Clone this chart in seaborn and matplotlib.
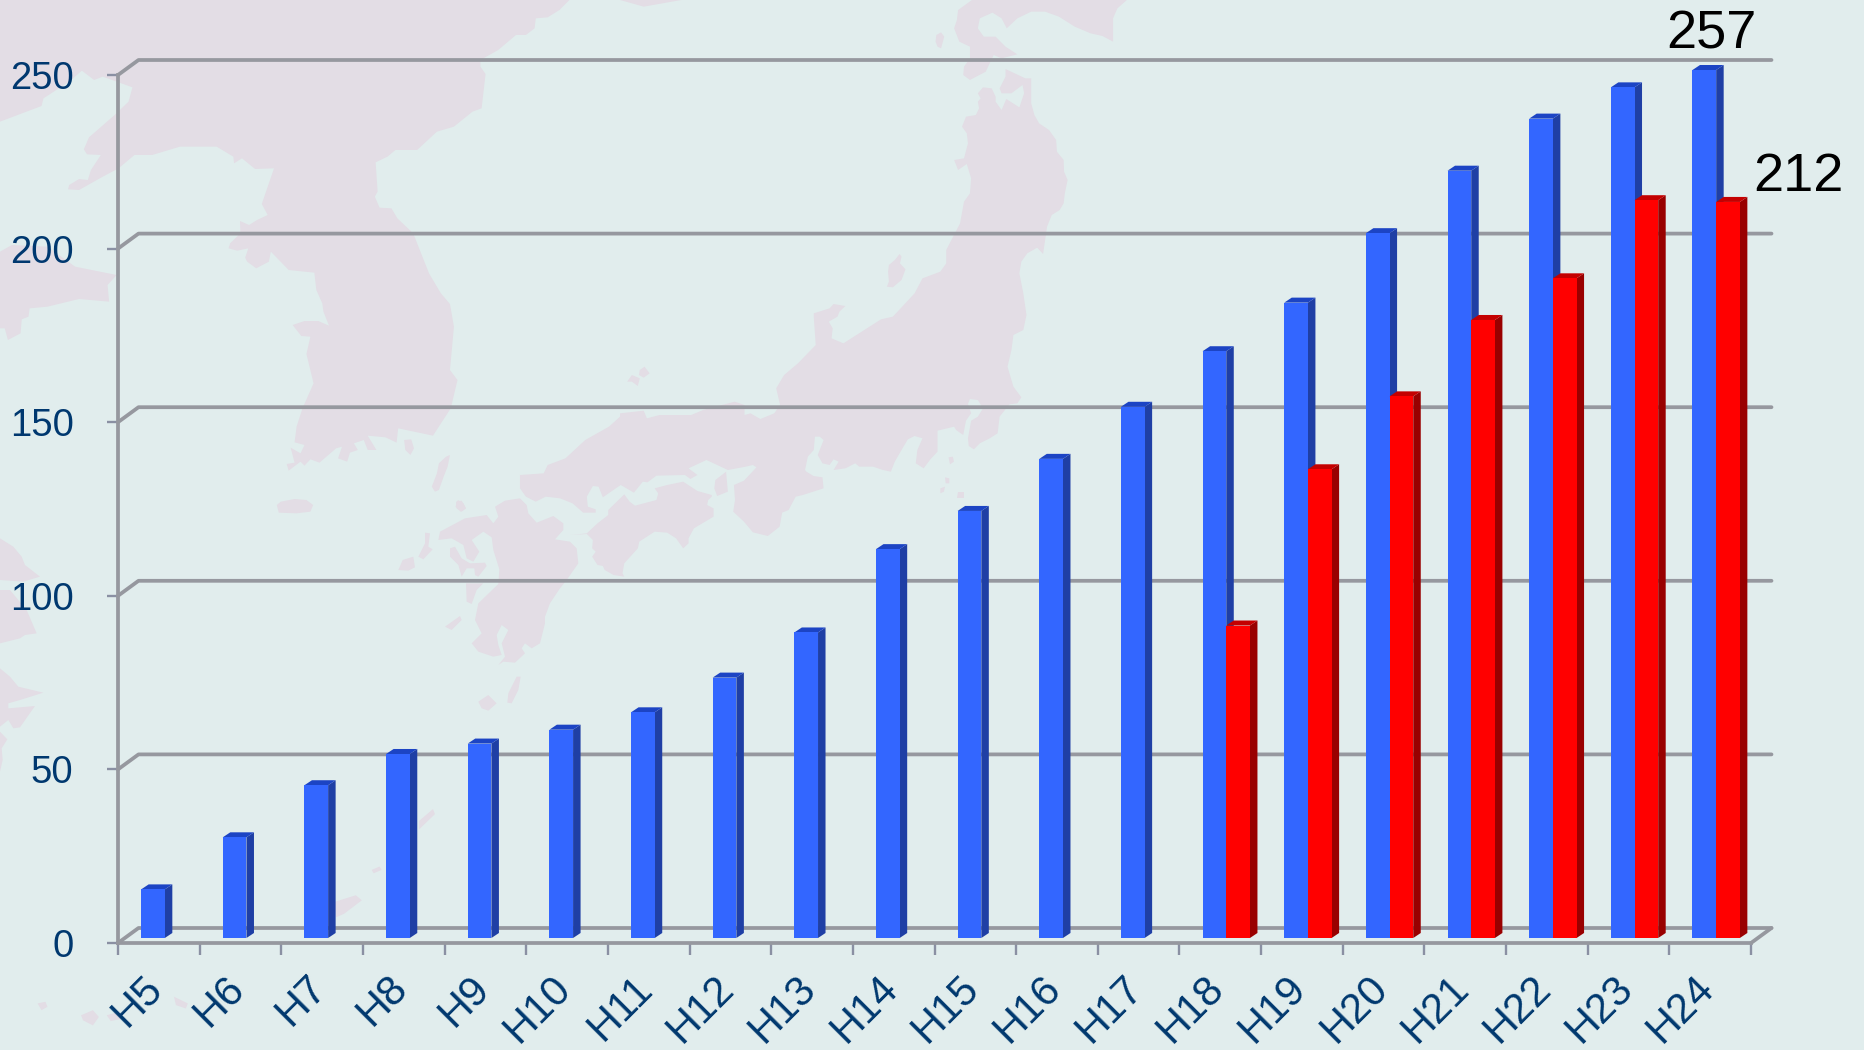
import numpy as np
import pandas as pd
import matplotlib
matplotlib.use("Agg")
import matplotlib.pyplot as plt
import seaborn as sns
from matplotlib.patches import Polygon
from matplotlib.transforms import ScaledTranslation

years = ["H5", "H6", "H7", "H8", "H9", "H10", "H11", "H12", "H13", "H14",
         "H15", "H16", "H17", "H18", "H19", "H20", "H21", "H22", "H23", "H24"]
blue_values = [14, 29, 44, 53, 56, 60, 65, 75, 88, 112,
               123, 138, 153, 169, 183, 203, 221, 236, 245, 257]
red_values = [None] * 13 + [90, 135, 156, 178, 190, 212.5, 212]
y_ticks = [0, 50, 100, 150, 200, 250]
y_top = 250  # the axis stops here, the 257 bar is cut off by it

BG = "#e1eded"
LAND = "#e3dde5"
GRID = "#96989f"
TICK = "#8a90a3"
NAVY = "#00386f"

W, H = 1864, 1050
PX_X = 20 / (1751 - 118)  # categories per pixel
PX_Y = 250 / (943 - 75)   # units per pixel


def trace(x0, y0, sx, sy, pts):
    return [(x0 + a / sx, y0 + b / sy) for a, b in pts]


def z5(pts):
    return trace(0, 0, 2.529, 3, pts)


def z6(pts):
    return trace(620, 0, 2.529, 3, pts)


def z7(pts):
    return trace(0, 520, 2.529, 2.958, pts)


def z8(pts):
    return trace(560, 360, 2.8, 3, pts)


def z9(pts):
    return trace(380, 480, 3, 3, pts)


def z10(pts):
    return trace(0, 500, 3, 3, pts)


land = [
    # continent and Korea
    z5([(0, 0), (1440, 0), (1415, 30), (1385, 52), (1355, 55), (1352, 85), (1330, 105), (1305, 105),
        (1260, 150), (1215, 180), (1215, 200), (1228, 222), (1218, 325), (1195, 335), (1148, 380),
        (1105, 395), (1055, 450), (1000, 450), (980, 470), (950, 487), (955, 575), (948, 590), (960, 623),
        (990, 625), (1005, 655), (1045, 700), (1085, 820), (1115, 880), (1138, 912), (1148, 980),
        (1138, 1110), (1157, 1140), (1140, 1225), (1095, 1307), (1007, 1285), (1003, 1328), (975, 1312),
        (930, 1307), (952, 1350), (930, 1350), (920, 1320), (895, 1330), (905, 1350), (885, 1358),
        (878, 1385), (855, 1375), (865, 1340), (850, 1345), (808, 1388), (785, 1378), (770, 1397),
        (760, 1385), (730, 1412), (725, 1392), (745, 1388), (735, 1343), (760, 1360), (770, 1335),
        (745, 1327), (750, 1280), (765, 1225), (793, 1150), (775, 1062), (785, 1010), (762, 1008),
        (740, 975), (770, 963), (805, 963), (832, 977), (818, 935), (815, 910), (800, 870), (795, 818),
        (730, 810), (685, 755), (680, 785), (648, 805), (625, 785), (620, 773), (628, 745), (600, 752),
        (578, 745), (582, 730), (608, 700), (607, 663), (630, 675), (650, 660), (677, 645), (662, 612),
        (693, 505), (645, 507), (612, 475), (592, 490), (590, 470), (548, 440), (455, 440), (385, 465),
        (340, 465), (300, 505), (260, 530), (200, 570), (172, 568), (175, 555), (200, 537), (222, 540),
        (230, 510), (255, 465), (220, 463), (212, 448), (225, 412), (290, 345), (325, 305), (335, 262),
        (260, 230), (238, 240), (207, 212), (175, 245), (110, 295), (105, 318), (0, 365)]),
    z5([(0, 755), (30, 735), (120, 740), (190, 800), (295, 825), (272, 855), (276, 905), (200, 897),
        (120, 920), (75, 925), (72, 950), (55, 958), (52, 1000), (20, 1020), (12, 985), (0, 985)]),
    z5([(700, 1515), (710, 1505), (745, 1497), (775, 1500), (792, 1515), (785, 1535), (750, 1540), (705, 1538)]),
    z5([(1022, 1320), (1040, 1318), (1047, 1345), (1038, 1365), (1025, 1350)]),
    z5([(1128, 1370), (1138, 1365), (1132, 1400), (1122, 1430), (1110, 1470), (1100, 1475), (1092, 1460),
        (1105, 1420), (1110, 1390)]),
    z5([(1158, 1500), (1172, 1510), (1178, 1525), (1165, 1535), (1152, 1520)]),
    z6([(0, 0), (60, 20), (155, 0)]),
    # Hokkaido
    z6([(890, 0), (855, 30), (852, 60), (845, 85), (858, 125), (885, 140), (885, 175), (870, 200), (868, 225),
        (885, 240), (925, 215), (945, 165), (965, 175), (1005, 163), (975, 140), (950, 110), (920, 110),
        (905, 85), (910, 55), (942, 38), (965, 55), (978, 85), (1005, 55), (1040, 35), (1075, 35), (1110, 50),
        (1150, 80), (1190, 100), (1220, 108), (1247, 125), (1247, 55), (1258, 25), (1282, 0)]),
    z6([(800, 105), (812, 97), (820, 110), (812, 145), (803, 140), (798, 125)]),
    # Honshu
    z6([(975, 207), (1025, 235), (1040, 235), (1040, 310), (1048, 345), (1060, 370), (1085, 390), (1103, 420),
        (1105, 455), (1122, 480), (1123, 515), (1132, 540), (1125, 580), (1122, 610), (1112, 630), (1092, 645),
        (1080, 680), (1070, 762), (1055, 743), (1030, 760), (1015, 785), (1010, 820), (1020, 880), (1028, 945),
        (1020, 990), (995, 1005), (990, 1050), (980, 1100), (995, 1160), (1015, 1192), (1005, 1210), (985, 1213),
        (960, 1250), (955, 1300), (935, 1315), (910, 1330), (895, 1348), (882, 1338), (880, 1315), (888, 1262),
        (905, 1250), (918, 1225), (905, 1200), (885, 1197), (880, 1212), (888, 1240), (875, 1262), (868, 1305),
        (850, 1290), (845, 1280), (803, 1292), (803, 1355), (785, 1378), (768, 1405), (748, 1390), (752, 1350),
        (765, 1315), (745, 1308), (728, 1318), (712, 1350), (695, 1385), (685, 1415), (665, 1410), (640, 1400),
        (605, 1400), (595, 1390), (570, 1405), (540, 1410), (553, 1385), (540, 1378), (530, 1395), (512, 1390),
        (500, 1365), (515, 1320), (505, 1310), (493, 1310), (490, 1350), (475, 1370), (468, 1410)])
    + z8([(690, 335), (710, 348), (735, 352), (738, 385), (680, 405), (660, 410), (640, 450), (622, 458),
          (615, 500), (582, 528), (540, 517), (515, 485), (485, 455), (490, 420), (487, 375), (515, 362),
          (550, 322), (540, 315), (520, 320), (470, 330), (410, 300), (360, 325), (385, 345), (365, 357),
          (350, 345), (270, 347), (245, 367), (232, 365), (207, 398), (170, 375), (120, 412), (108, 380),
          (92, 378), (75, 410), (78, 440), (100, 448), (100, 458), (65, 458), (35, 430), (0, 415)])
    + z5([(1380, 1490), (1355, 1505), (1330, 1490), (1315, 1465), (1315, 1425), (1375, 1420), (1385, 1395),
          (1430, 1375), (1480, 1320), (1540, 1280), (1568, 1250)])
    + z6([(0, 1240), (60, 1232), (68, 1255), (100, 1245), (180, 1245), (210, 1230), (290, 1205), (315, 1215),
          (315, 1245), (330, 1240), (355, 1257), (390, 1240), (405, 1215), (395, 1165), (415, 1125), (450, 1090),
          (495, 1035), (490, 950), (490, 940), (530, 925), (540, 912), (570, 918), (555, 935), (550, 950),
          (528, 965), (538, 985), (535, 1015), (565, 1030), (660, 958), (690, 950), (745, 880), (765, 835),
          (810, 815), (825, 790), (825, 750), (860, 670), (870, 605), (885, 580), (888, 535), (877, 492),
          (855, 510), (845, 480), (870, 475), (880, 430), (877, 400), (865, 380), (875, 350), (900, 345),
          (908, 325), (905, 305), (912, 295), (905, 280), (918, 262), (940, 265), (950, 290), (950, 305),
          (965, 330), (977, 297), (1010, 322), (1022, 280), (1018, 255), (990, 280), (965, 280), (960, 265),
          (975, 230)]),
    # Shikoku, Awaji
    z8([(135, 465), (135, 450), (180, 403), (195, 425), (210, 437), (270, 420), (275, 400), (265, 385), (300, 375),
        (345, 365), (385, 393), (425, 405), (425, 410), (415, 420), (412, 435), (430, 445), (430, 470), (375, 505),
        (360, 535), (360, 550), (345, 565), (325, 535), (300, 518), (265, 515), (222, 545), (218, 565), (180, 610),
        (175, 640), (180, 650), (150, 645), (125, 630), (120, 618), (105, 615), (90, 590), (100, 575), (90, 565),
        (92, 540), (75, 522), (30, 525), (75, 520), (105, 490)]),
    z8([(435, 360), (465, 335), (470, 395), (440, 408), (432, 385)]),
    # small islands
    z6([(707, 762), (712, 770), (708, 790), (722, 808), (712, 840), (690, 862), (675, 860), (680, 845), (678, 815),
        (680, 795), (695, 780)]),
    z6([(62, 1100), (75, 1120), (60, 1133), (48, 1125), (50, 1110)]),
    z6([(18, 1145), (30, 1125), (50, 1135), (45, 1158), (30, 1145)]),
    z8([(1088, 292), (1100, 290), (1103, 305), (1092, 313)]),
    z8([(1078, 352), (1090, 355), (1090, 370), (1080, 370)]),
    z8([(1065, 385), (1078, 380), (1075, 395), (1065, 400)]),
    z8([(1115, 395), (1130, 395), (1130, 415), (1112, 415)]),
    # Kyushu
    z9([(345, 80), (375, 62), (420, 55), (440, 75), (445, 100), (470, 128), (520, 108), (550, 130), (550, 150),
        (525, 178), (570, 185), (590, 205), (595, 250), (560, 300), (540, 325), (510, 370), (495, 410), (495, 430),
        (480, 490), (455, 505), (435, 490), (425, 505), (435, 520), (405, 548), (370, 545), (355, 555), (375, 530),
        (365, 490), (385, 450), (365, 435), (350, 465), (355, 495), (365, 525), (340, 530), (295, 515), (275, 490),
        (305, 460), (285, 420), (295, 370), (355, 312), (358, 268), (340, 210), (335, 172), (310, 155), (275, 180),
        (298, 215), (280, 245), (260, 235), (250, 195), (215, 175), (175, 180), (180, 155), (255, 115), (320, 105),
        (340, 130), (355, 110)]),
    z9([(210, 205), (225, 200), (245, 235), (270, 250), (315, 248), (320, 258), (295, 290), (285, 285), (283, 265),
        (260, 265), (245, 290), (235, 255), (210, 230)]),
    z9([(258, 310), (310, 310), (290, 330), (275, 372), (260, 365)]),
    z9([(55, 270), (68, 240), (100, 230), (105, 262), (85, 272)]),
    z9([(115, 230), (135, 190), (135, 158), (150, 160), (145, 200), (158, 208), (130, 238)]),
    z9([(228, 65), (245, 62), (258, 85), (245, 95), (230, 85)]),
    z9([(195, 440), (240, 408), (245, 420), (215, 450)]),
    z9([(385, 640), (410, 590), (422, 590), (415, 630), (395, 670), (382, 668)]),
    z9([(295, 665), (325, 645), (350, 670), (325, 692), (305, 685)]),
    # China coast on the left
    z10([(0, 115), (40, 140), (65, 170), (75, 195), (120, 230), (70, 245), (0, 240)]),
    z10([(0, 270), (30, 270), (80, 330), (110, 400), (75, 405), (60, 415), (0, 430)]),
    z10([(0, 505), (30, 530), (55, 560), (130, 578), (60, 600), (25, 610), (25, 625), (105, 618), (60, 682),
         (40, 685), (25, 660), (0, 680)]),
    z10([(0, 695), (22, 718), (5, 745), (8, 780), (0, 815)]),
    # southern islands behind the bars
    z7([(940, 1035), (960, 1025), (965, 1035), (945, 1045)]),
    z7([(845, 1130), (900, 1110), (915, 1125), (870, 1165), (850, 1175)]),
    z7([(1060, 890), (1095, 855), (1100, 870), (1060, 915)]),
    z7([(95, 1430), (115, 1425), (120, 1440), (105, 1450)]),
    z7([(205, 1465), (235, 1450), (250, 1470), (235, 1495), (210, 1480)]),
    z7([(270, 1465), (300, 1455), (310, 1475), (280, 1482)]),
    z7([(440, 1410), (475, 1430), (470, 1445), (445, 1435)]),
]

sns.set_theme(style="white")
plt.rcParams["font.family"] = ["Liberation Sans", "DejaVu Sans"]

fig = plt.figure(figsize=(W / 100, H / 100), dpi=100, facecolor=BG)

bg = fig.add_axes([0, 0, 1, 1], zorder=0)
bg.set_xlim(0, W)
bg.set_ylim(H, 0)
bg.axis("off")
for shape in land:
    bg.add_patch(Polygon(shape, closed=True, facecolor=LAND, edgecolor="none"))

ax = fig.add_axes([118 / W, (H - 943) / H, (1751 - 118) / W, (943 - 75) / H], zorder=1)
ax.patch.set_visible(False)

df = pd.DataFrame({
    "year": years * 2,
    "series": ["blue"] * len(years) + ["red"] * len(years),
    "value": [min(v, y_top) for v in blue_values] + [np.nan if v is None else v for v in red_values],
})
sns.barplot(data=df, x="year", y="value", hue="series", hue_order=["blue", "red"],
            palette={"blue": "#3366ff", "red": "#ff0000"}, width=0.58, gap=0,
            dodge=True, legend=False, saturation=1, ax=ax)
ax.set_xlim(-0.5, 19.5)
ax.set_ylim(0, y_top)
ax.set_xlabel("")
ax.set_ylabel("")

# back wall: each grid line starts with a short slant off the y axis
wall_x = 20.5 * PX_X
wall_y = 15 * PX_Y
for t in y_ticks:
    ax.plot([-0.5, -0.5 + wall_x, 19.5 + wall_x], [t, t + wall_y, t + wall_y],
            color=GRID, lw=2.7, clip_on=False, zorder=1, solid_joinstyle="round")
ax.plot([19.5, 19.5 + wall_x], [0, wall_y], color=GRID, lw=2.7, clip_on=False, zorder=1)

# seaborn gives the flat fronts, side and top faces are built from them
shift_x = 6 * PX_X
lift_y = 5 * PX_Y
side_x = 7.5 * PX_X
side_y = 5 * PX_Y
faces = [("#1f3fa5", "#1c44c4", 3), ("#990000", "#c40000", 4)]
for bars, (side_col, top_col, z) in zip(ax.containers, faces):
    for p in bars:
        if np.isnan(p.get_height()):
            continue
        p.set_x(p.get_x() + shift_x)
        p.set_y(lift_y)
        p.set_zorder(z + 0.5)
        p.set_clip_on(False)
        p.set_edgecolor("none")
        x0, x1 = p.get_x(), p.get_x() + p.get_width()
        y0, y1 = p.get_y(), p.get_y() + p.get_height()
        ax.add_patch(Polygon([(x1, y0), (x1 + side_x, y0 + side_y), (x1 + side_x, y1 + side_y), (x1, y1)],
                             facecolor=side_col, edgecolor="none", clip_on=False, zorder=z))
        ax.add_patch(Polygon([(x0, y1), (x0 + side_x, y1 + side_y), (x1 + side_x, y1 + side_y), (x1, y1)],
                             facecolor=top_col, edgecolor="none", clip_on=False, zorder=z))

sns.despine(ax=ax, top=True, right=True)
for name in ["left", "bottom"]:
    ax.spines[name].set_color(GRID)
    ax.spines[name].set_linewidth(2.7)
    ax.spines[name].set_zorder(2)

ax.set_yticks(y_ticks)
ax.tick_params(axis="y", length=8, width=1.7, color=TICK, pad=24, labelsize=27.5, labelcolor=NAVY, left=True)
ax.set_xticks(np.arange(len(years)))
ax.set_xticklabels(years)
ax.set_xticks(np.arange(len(years) + 1) - 0.5, minor=True)
ax.tick_params(axis="x", which="major", length=0, pad=18, labelsize=30, labelcolor=NAVY)
ax.tick_params(axis="x", which="minor", length=8.5, width=1.7, color=TICK, bottom=True)
nudge = ScaledTranslation(12 / 100, 0, fig.dpi_scale_trans)
for label in ax.get_xticklabels():
    label.set_rotation(45)
    label.set_ha("right")
    label.set_va("top")
    label.set_transform(label.get_transform() + nudge)

ax.text(19.02, 261.8, "257", fontsize=39, color="black", ha="center", va="center")
ax.text(20.08, 220.6, "212", fontsize=39, color="black", ha="center", va="center")

fig.savefig("out.png", dpi=100, facecolor=BG)
